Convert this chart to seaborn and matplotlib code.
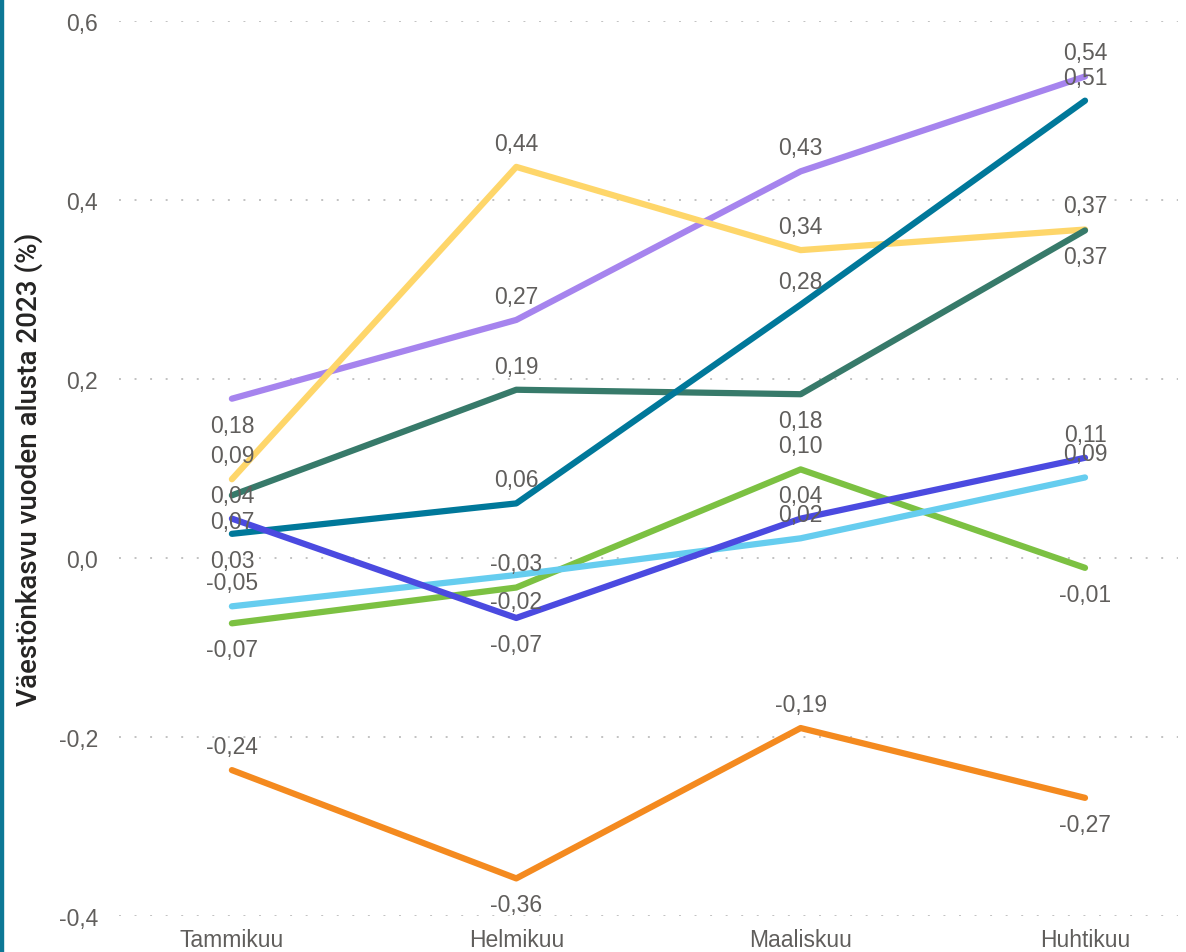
import matplotlib.pyplot as plt
import matplotlib.patches as patches
import seaborn as sns
import pandas as pd

months = ["Tammikuu", "Helmikuu", "Maaliskuu", "Huhtikuu"]

purple = [0.178, 0.266, 0.432, 0.538]
yellow = [0.088, 0.437, 0.344, 0.367]
dark_green = [0.070, 0.188, 0.183, 0.366]
teal = [0.027, 0.061, 0.283, 0.511]
green = [-0.073, -0.033, 0.099, -0.011]
light_blue = [-0.054, -0.019, 0.022, 0.090]
blue_violet = [0.044, -0.067, 0.044, 0.112]
orange = [-0.237, -0.358, -0.190, -0.268]

series = {
    "s1": purple,
    "s2": yellow,
    "s3": dark_green,
    "s4": teal,
    "s5": green,
    "s6": light_blue,
    "s7": blue_violet,
    "s8": orange,
}
colors = {
    "s1": "#A684EE",
    "s2": "#FED66A",
    "s3": "#377A6A",
    "s4": "#00789A",
    "s5": "#7CC142",
    "s6": "#66CDEF",
    "s7": "#4B4AE0",
    "s8": "#F48A1F",
}
# label side per point: a = above, b = below
sides = {
    "s1": "baaa",
    "s2": "aaaa",
    "s3": "babb",
    "s4": "baaa",
    "s5": "baab",
    "s6": "abaa",
    "s7": "abaa",
    "s8": "abab",
}

rows = []
for name, vals in series.items():
    for i, v in enumerate(vals):
        rows.append({"serie": name, "x": i, "kk": months[i], "arvo": v})
df = pd.DataFrame(rows)

sns.set_theme(style="white")
plt.rcParams["font.family"] = ["Liberation Sans", "DejaVu Sans"]

fig = plt.figure(figsize=(11.86, 9.53), dpi=100)
ax = fig.add_axes([119 / 1186, 36 / 953, 1059 / 1186, 895 / 953])

sns.lineplot(data=df, x="x", y="arvo", hue="serie", palette=colors,
             linewidth=4.5, sort=False, legend=False, ax=ax,
             solid_capstyle="round")

label_col = "#605E5C"
for name, vals in series.items():
    for i, v in enumerate(vals):
        txt = f"{v:.2f}".replace(".", ",")
        dy = 17 if sides[name][i] == "a" else -19
        ax.annotate(txt, (i, v), xytext=(0, dy), textcoords="offset points",
                    ha="center", va="center", fontsize=16.5, color=label_col,
                    annotation_clip=False)

ax.set_xlim(-0.397, 3.327)
ax.set_ylim(-0.4, 0.6)
ax.set_xticks(range(len(months)))
ax.set_xticklabels(months)
yt = [-0.4, -0.2, 0.0, 0.2, 0.4, 0.6]
ax.set_yticks(yt)
ax.set_yticklabels([f"{t:.1f}".replace(".", ",") for t in yt])
ax.tick_params(axis="y", length=0, pad=15, labelsize=16.5, labelcolor=label_col)
ax.tick_params(axis="x", length=0, pad=9, labelsize=16.5, labelcolor=label_col)
ax.set_xlabel("")
ax.set_ylabel("Väestönkasvu vuoden alusta 2023 (%)", fontsize=20,
              color="#252423", fontweight="medium",
              family=["Roboto", "DejaVu Sans"])
ax.yaxis.set_label_coords(-0.072, 0.5)
for s in ax.spines.values():
    s.set_visible(False)
for t in yt:
    ax.axhline(t, color="#C2C2C2", linewidth=1.4, linestyle=(0, (1, 7)), zorder=0)

fig.patches.append(patches.Rectangle((0, 0), 3 / 1186, 1, transform=fig.transFigure,
                                     color="#0D7896", zorder=5))

fig.savefig("out.png", dpi=100)
